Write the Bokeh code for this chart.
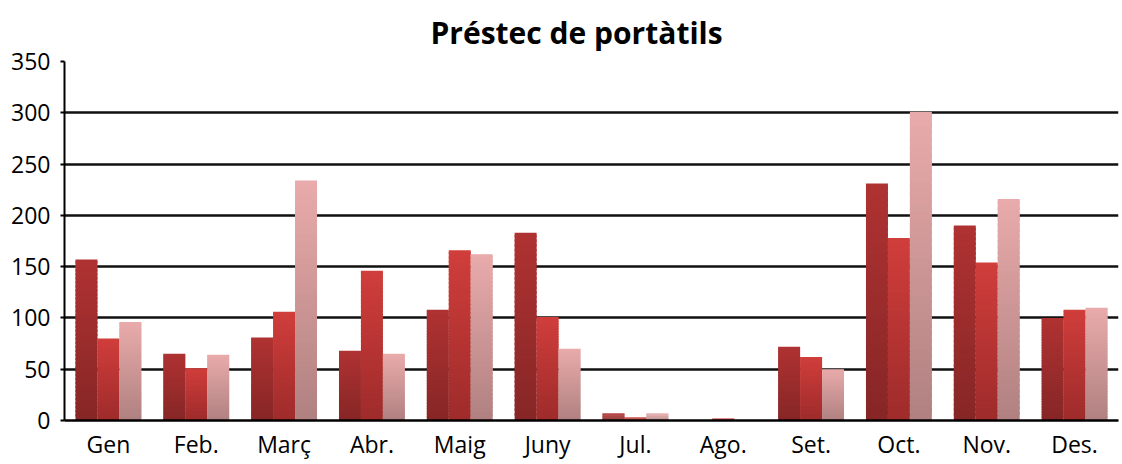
from bokeh.plotting import figure
from bokeh.models import FactorRange, ColumnDataSource, SingleIntervalTicker
from bokeh.transform import dodge
from bokeh.embed import file_html
from bokeh.resources import INLINE

months = ["Gen", "Feb.", "Març", "Abr.", "Maig", "Juny", "Jul.", "Ago.", "Set.", "Oct.", "Nov.", "Des."]
serie1 = [157, 65, 81, 68, 108, 183, 7, 0, 72, 231, 190, 100]
serie2 = [80, 51, 106, 146, 166, 101, 3, 2, 62, 178, 154, 108]
serie3 = [96, 64, 234, 65, 162, 70, 7, 0, 50, 301, 216, 110]

series = [serie1, serie2, serie3]
offsets = [-0.25, 0.0, 0.25]
grad = [((0xb0, 0x32, 0x32), (0x86, 0x26, 0x26)),
        ((0xd0, 0x3e, 0x3b), (0x9e, 0x2b, 0x2b)),
        ((0xe9, 0xab, 0xab), (0xb0, 0x80, 0x80))]

p = figure(x_range=FactorRange(*months, range_padding=0), y_range=(0, 350),
           width=1120, height=464, output_backend="svg", toolbar_location=None,
           min_border_left=64, min_border_right=2, min_border_top=60, min_border_bottom=44)

N = 40
for vals, off, (top_c, bot_c) in zip(series, offsets, grad):
    xs, bots, tops, cols = [], [], [], []
    for m, v in zip(months, vals):
        if v <= 0:
            continue
        for i in range(N):
            t = (i + 0.5) / N
            c = tuple(int(round(bot_c[k] + (top_c[k] - bot_c[k]) * t)) for k in range(3))
            xs.append(m)
            bots.append(v * i / N)
            tops.append(min(v, v * (i + 1.6) / N))
            cols.append("#%02x%02x%02x" % c)
    src = ColumnDataSource(dict(x=xs, bottom=bots, top=tops, color=cols))
    p.vbar(x=dodge("x", off, range=p.x_range), bottom="bottom", top="top", width=0.25,
           source=src, fill_color="color", line_color=None)

p.title.text = "Préstec de portàtils"
p.title.align = "left"
p.title.offset = 366
p.title.text_font = "Open Sans"
p.title.text_font_size = "30px"
p.title.text_font_style = "bold"
p.title.text_color = "black"
p.title.standoff = 18

p.outline_line_color = None
p.xgrid.grid_line_color = None
p.ygrid.grid_line_color = "#111111"
p.ygrid.grid_line_width = 2.5
p.yaxis.ticker = SingleIntervalTicker(interval=50)
p.yaxis.axis_line_color = "black"
p.yaxis.axis_line_width = 2
p.yaxis.major_tick_line_color = "black"
p.yaxis.major_tick_line_width = 2
p.yaxis.major_tick_out = 4
p.yaxis.major_tick_in = 0
p.yaxis.minor_tick_line_color = None
p.xaxis.axis_line_color = "black"
p.xaxis.axis_line_width = 2.5
p.xaxis.major_tick_line_color = None
p.xaxis.minor_tick_line_color = None
p.xaxis.major_tick_out = 0
p.xaxis.major_tick_in = 0
for ax in (p.xaxis, p.yaxis):
    ax.major_label_text_font = "Open Sans"
    ax.major_label_text_font_size = "23px"
    ax.major_label_text_color = "black"
p.yaxis.major_label_standoff = 10
p.xaxis.major_label_standoff = 7

open("out.html", "w").write(file_html(p, INLINE))
